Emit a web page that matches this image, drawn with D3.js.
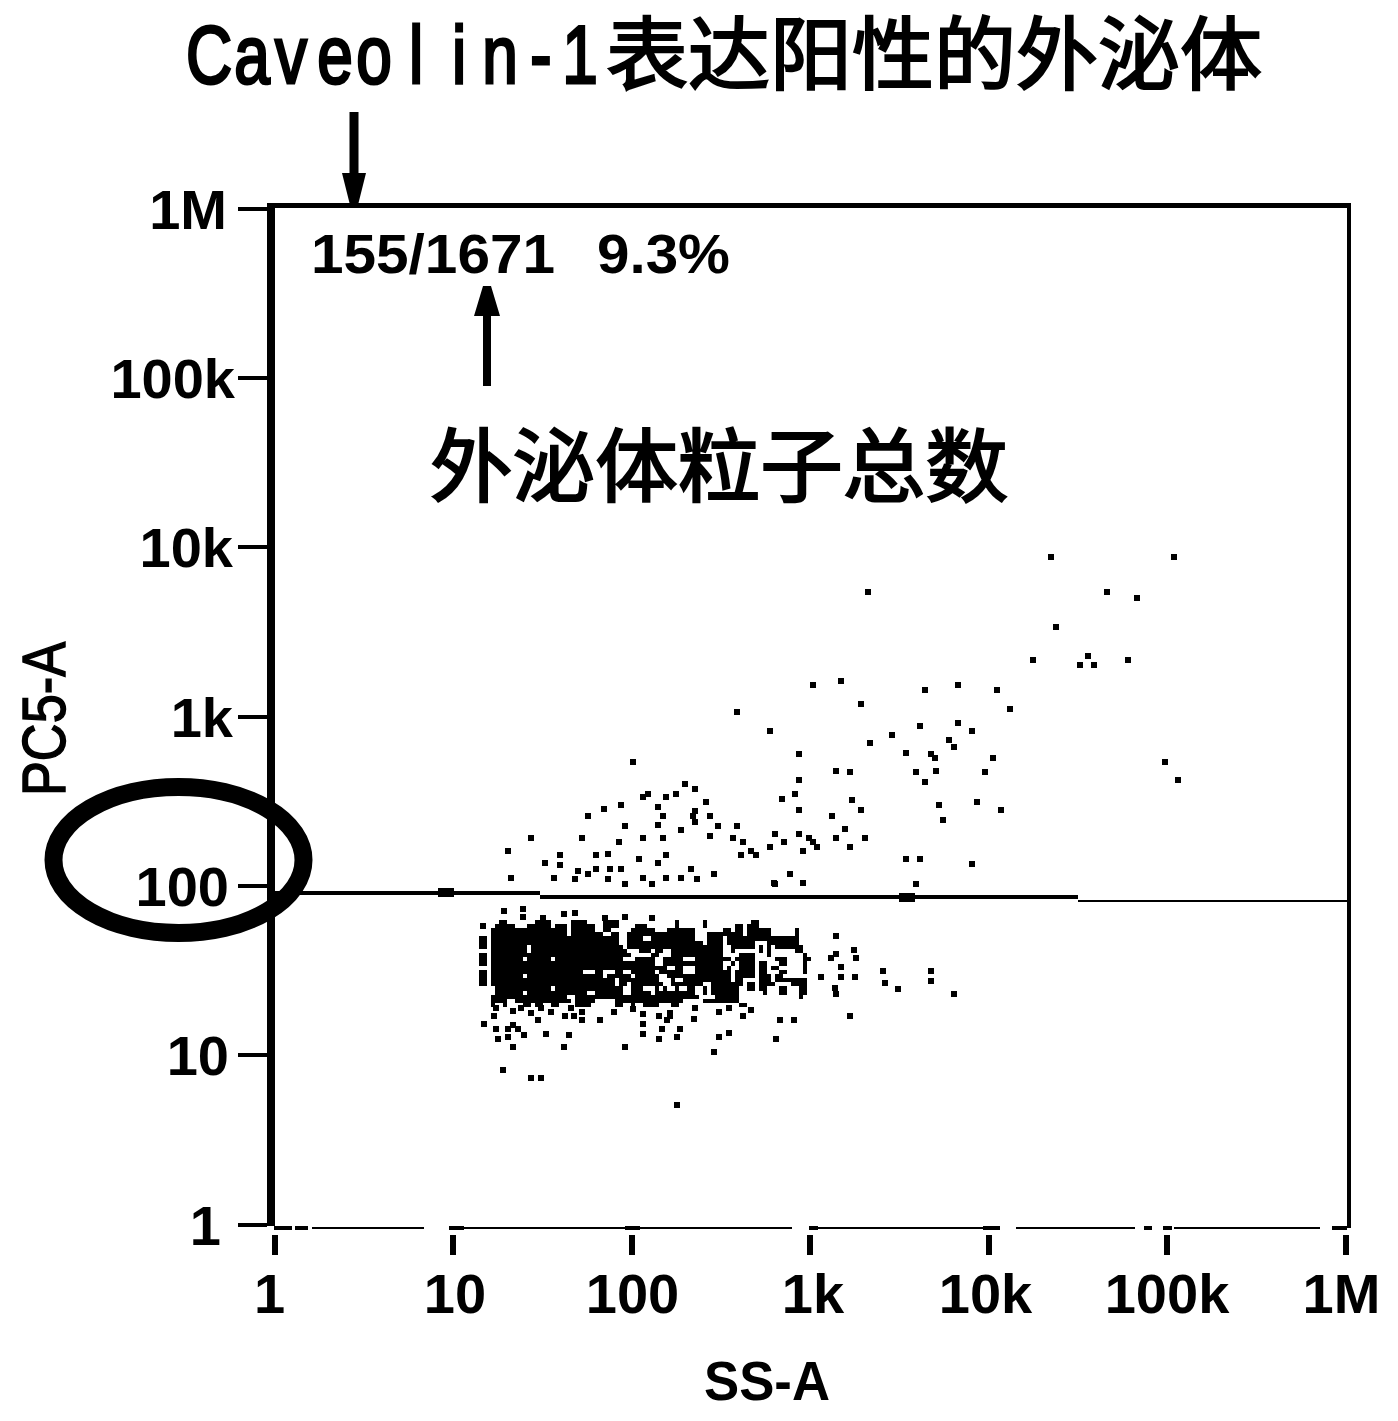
<!DOCTYPE html>
<html><head><meta charset="utf-8">
<script src="https://cdnjs.cloudflare.com/ajax/libs/d3/7.8.5/d3.min.js"></script>
<style>
html,body{margin:0;padding:0;background:#fff}
svg{display:block}
text{fill:#000}
.num{font-family:"Liberation Sans",Arial,sans-serif;font-weight:700;font-size:56px}
.cjk{font-family:"Noto Sans CJK SC",sans-serif;font-size:80px;stroke:#000;stroke-width:2.2px}
.lat{font-family:"Liberation Sans",Arial,sans-serif;font-size:82px;stroke:#000;stroke-width:3px}
</style></head><body>
<svg id="c" width="1398" height="1421"></svg>
<script>
// ---- text ----
const titleLatin = "Caveolin-1";
const titleLatinCentres = [209, 252, 291, 335, 374, 416, 459, 500, 541, 580];
const titleCjk = "表达阳性的外泌体";
const noteCjk = "外泌体粒子总数";
const gateCount = "155/1671";
const gatePercent = "9.3%";
const xTitle = "SS-A";
const yTitle = "PC5-A";

// ---- axes ----
const tickValues = [1, 10, 100, 1000, 10000, 100000, 1000000];
const tickNames = ["1", "10", "100", "1k", "10k", "100k", "1M"];
const xLabelNudge = [-5, 2, 1, 3, -3, 0, -4];
const yLabelNudge = [-9, -1, -1, 3, 3, 5, -3];

// ---- gate (threshold) in channel values: [SS-A from, SS-A to, PC5-A, line weight] ----
const gateSegments = [[1, 31, 90.2, 4], [31, 31900, 85.3, 4], [31900, 1030000, 80.9, 2]];
const gateDots = [[9.2, 90.2], [3540, 85.3]];

// ---- events, as [log10 SS-A, log10 PC5-A] ----
const eventsAboveGate = [[4.355,3.939],[5.04,3.939],[3.33,3.73],[4.668,3.73],[4.834,3.699],[4.379,3.524],[4.252,3.329],[4.563,3.353],[4.518,3.304],[4.595,3.304],[4.784,3.329],[3.017,3.182],[3.178,3.205],[3.647,3.156],[3.833,3.182],[4.049,3.152],[3.286,3.071],[4.123,3.044],[2.596,3.022],[2.777,2.912],[3.62,2.94],[3.831,2.961],[3.912,2.912],[3.462,2.885],[3.783,2.861],[3.341,2.839],[3.807,2.816],[2.941,2.778],[3.541,2.782],[3.681,2.778],[3.704,2.753],[4.028,2.753],[4.992,2.729],[2.014,2.729],[3.146,2.674],[3.228,2.668],[3.599,2.668],[3.707,2.678],[3.981,2.672],[2.941,2.621],[3.646,2.609],[5.063,2.621],[2.303,2.598],[2.361,2.57],[2.093,2.542],[2.069,2.519],[2.198,2.519],[2.253,2.542],[2.917,2.542],[2.848,2.507],[3.238,2.503],[2.419,2.495],[3.725,2.472],[3.936,2.495],[1.85,2.448],[1.942,2.472],[2.153,2.462],[2.361,2.438],[2.941,2.444],[3.286,2.444],[4.073,2.444],[1.758,2.411],[2.177,2.411],[2.348,2.411],[2.443,2.411],[3.125,2.411],[3.749,2.387],[2.361,2.373],[1.964,2.352],[2.153,2.356],[2.488,2.352],[2.596,2.35],[2.28,2.328],[3.2,2.33],[1.439,2.277],[1.727,2.277],[2.069,2.277],[2.177,2.277],[2.44,2.291],[2.569,2.277],[2.804,2.303],[2.941,2.303],[2.996,2.277],[3.146,2.277],[3.309,2.277],[1.935,2.253],[2.627,2.253],[2.859,2.253],[3.017,2.253],[1.313,2.2],[1.6,2.177],[1.803,2.177],[1.869,2.187],[2.198,2.177],[2.672,2.2],[2.619,2.177],[2.698,2.177],[2.777,2.228],[2.962,2.2],[3.041,2.228],[3.228,2.228],[2.043,2.153],[3.541,2.153],[3.62,2.153],[1.521,2.129],[1.6,2.118],[2.153,2.129],[3.912,2.124],[1.705,2.084],[1.803,2.094],[1.885,2.094],[1.942,2.094],[2.338,2.094],[1.758,2.069],[2.464,2.065],[1.326,2.043],[1.566,2.043],[1.684,2.035],[1.869,2.035],[1.964,2.006],[2.069,2.043],[2.119,2.006],[2.198,2.043],[2.28,2.043],[2.369,2.035],[2.893,2.069],[2.804,2.01],[2.962,2.015],[3.599,2.01],[2.965,2.011],[2.801,2.011]];
const eventsBelowGate = [[1.287,1.848],[1.395,1.858],[1.395,1.815],[1.505,1.809],[1.626,1.829],[1.685,1.838],[1.855,1.809],[1.964,1.815],[2.119,1.809],[1.17,1.76],[1.245,1.278],[1.338,1.258],[1.384,1.278],[1.44,1.248],[1.496,1.278],[1.551,1.252],[1.663,1.278],[1.728,1.254],[1.905,1.252],[2.013,1.268],[2.069,1.242],[2.156,1.229],[2.221,1.248],[2.361,1.278],[2.355,1.209],[2.491,1.252],[2.547,1.278],[2.673,1.264],[2.63,1.229],[1.231,1.229],[1.477,1.205],[1.63,1.229],[1.682,1.229],[1.728,1.205],[1.827,1.205],[2.221,1.229],[2.203,1.205],[2.835,1.205],[2.913,1.205],[3.226,1.229],[1.176,1.18],[1.338,1.176],[2.069,1.18],[1.245,1.15],[1.313,1.15],[1.365,1.15],[2.175,1.15],[2.277,1.15],[1.403,1.117],[1.523,1.125],[1.65,1.117],[2.069,1.125],[1.254,1.091],[1.313,1.103],[2.156,1.095],[2.255,1.103],[2.491,1.103],[2.547,1.13],[2.813,1.091],[1.338,1.044],[1.626,1.044],[1.964,1.044],[2.467,1.018],[1.285,0.908],[1.44,0.861],[1.496,0.861],[2.255,0.702],[3.146,1.701],[3.25,1.618],[3.146,1.593],[3.123,1.569],[3.263,1.569],[3.179,1.52],[3.064,1.461],[3.179,1.461],[3.253,1.461],[3.412,1.494],[3.681,1.494],[3.421,1.425],[3.681,1.435],[3.495,1.386],[3.142,1.396],[3.147,1.357],[3.808,1.36]];

// ---- saturated core, binned: occupied SS-A bin runs [from, to) per PC5-A bin, top bin first ----
const denseSsaStart = 1.148, denseSsaBin = 0.0224;   // log10 SS-A
const densePc5Start = 1.797, densePc5Bin = 0.0246;   // log10 PC5-A, downwards
const denseRuns = [
 [[5,7],[14,18],[23,27],[31,35],[49,50],[56,57],[68,70]],
 [[4,9],[12,18],[19,22],[23,29],[31,35],[39,42],[49,50],[56,57],[64,66],[67,70]],
 [[3,22],[23,29],[31,33],[38,44],[47,54],[61,63],[64,66],[67,73],[79,80]],
 [[3,22],[23,31],[33,35],[37,54],[57,66],[67,73],[79,80]],
 [[0,2],[3,35],[37,41],[43,54],[57,61],[62,80]],
 [[0,2],[3,35],[37,56],[57,61],[62,69],[72,80]],
 [[0,2],[3,12],[13,36],[37,61],[63,69],[70,71],[72,73],[74,81]],
 [[3,12],[13,37],[40,43],[44,46],[48,61],[63,64],[70,71],[72,73],[79,81]],
 [[0,2],[3,38],[43,45],[48,61],[65,69],[72,73],[81,82]],
 [[0,2],[3,11],[12,18],[19,36],[39,44],[46,51],[54,63],[64,69],[74,77],[81,83]],
 [[0,2],[3,44],[46,61],[63,64],[65,69],[70,72],[75,77],[81,82]],
 [[3,47],[49,51],[54,61],[62,63],[65,69],[70,72],[73,75],[81,82]],
 [[0,2],[3,26],[29,31],[34,36],[38,44],[45,51],[54,63],[64,69],[70,72],[75,77],[81,82]],
 [[0,2],[3,11],[12,31],[32,38],[39,45],[47,63],[64,69],[70,73],[74,76]],
 [[0,2],[3,34],[35,45],[48,49],[51,63],[64,66],[70,73],[74,82]],
 [[0,2],[3,34],[35,37],[38,46],[48,56],[58,66],[67,69],[70,74],[78,82]],
 [[4,18],[19,36],[38,41],[44,45],[46,47],[49,50],[52,54],[56,57],[58,65],[67,69],[70,72],[75,77],[80,82]],
 [[4,11],[12,27],[29,36],[38,43],[44,54],[56,57],[58,65],[71,72],[75,77],[80,82]],
 [[3,22],[24,55],[59,65],[80,81]],
 [[3,7],[9,23],[24,29],[34,51],[56,65]],
 [[3,4],[6,7],[11,13],[14,16],[18,20],[24,28],[34,36],[38,39],[41,45],[48,50],[65,67]]
];

// ---- broken thin baseline and its heavier stubs, in SS-A channel values ----
const baselineRuns = [[1.63,6.9],[11.6,92.6],[112,800],[1100,9400],[14400,66600],[110000,724000]];
const baselineStubs = [[1,1.26],[1.31,1.55],[9.6,11.6],[92.6,112],[993,1116],[9380,11700],[74800,83000],[96000,107000],[845000,1020000]];

// ---- build ----
const svg = d3.select("#c");
const x = d3.scaleLog().domain([1, 1e6]).range([274, 1345]);
const y = d3.scaleLog().domain([1, 1e6]).range([1224, 208]);
const frame = {l: 267, t: 203, r: 1351, b: 1228, lw: 8, tw: 5, rw: 4};

// Events
const markSize = 6;
const marks = svg.append("g").attr("shape-rendering", "crispEdges");
marks.selectAll("rect.ev").data(eventsAboveGate.concat(eventsBelowGate)).join("rect").attr("class", "ev")
  .attr("x", d => x(10 ** d[0]) - markSize / 2)
  .attr("y", d => y(10 ** d[1]) - markSize / 2)
  .attr("width", markSize).attr("height", markSize);

const denseCells = denseRuns.flatMap((runs, r) => runs.map(run => ({r, from: run[0], to: run[1]})));
marks.selectAll("rect.dense").data(denseCells).join("rect").attr("class", "dense")
  .attr("x", d => x(10 ** (denseSsaStart + d.from * denseSsaBin)))
  .attr("width", d => x(10 ** (denseSsaStart + d.to * denseSsaBin)) - x(10 ** (denseSsaStart + d.from * denseSsaBin)))
  .attr("y", d => y(10 ** (densePc5Start - d.r * densePc5Bin)))
  .attr("height", d => y(10 ** (densePc5Start - (d.r + 1) * densePc5Bin)) - y(10 ** (densePc5Start - d.r * densePc5Bin)));

// Gate
marks.selectAll("rect.gate").data(gateSegments).join("rect").attr("class", "gate")
  .attr("x", d => x(d[0]))
  .attr("width", d => x(d[1]) - x(d[0]))
  .attr("y", d => y(d[2]) - d[3] / 2)
  .attr("height", d => d[3]);
marks.selectAll("rect.gdot").data(gateDots).join("rect").attr("class", "gdot")
  .attr("x", d => x(d[0]) - 8).attr("y", d => y(d[1]) - 4.5).attr("width", 16).attr("height", 9);

// Frame
const fr = svg.append("g").attr("shape-rendering", "crispEdges");
fr.append("rect").attr("x", frame.l).attr("y", frame.t).attr("width", frame.lw).attr("height", frame.b - frame.t - 2);
fr.append("rect").attr("x", frame.l).attr("y", frame.t).attr("width", frame.r - frame.l).attr("height", frame.tw);
fr.append("rect").attr("x", frame.r - frame.rw).attr("y", frame.t).attr("width", frame.rw).attr("height", frame.b - frame.t);
fr.selectAll("rect.base").data(baselineRuns).join("rect").attr("class", "base")
  .attr("x", d => x(d[0])).attr("width", d => x(d[1]) - x(d[0]))
  .attr("y", frame.b - 1).attr("height", 2);
fr.selectAll("rect.stub").data(baselineStubs).join("rect").attr("class", "stub")
  .attr("x", d => x(d[0])).attr("width", d => x(d[1]) - x(d[0]))
  .attr("y", frame.b - 2).attr("height", 4);

// Axes
const fmt = v => tickNames[tickValues.indexOf(v)];
const gx = svg.append("g").attr("transform", "translate(0,1235)")
  .call(d3.axisBottom(x).tickValues(tickValues).tickFormat(fmt).tickSize(20).tickPadding(0));
gx.select(".domain").remove();
gx.selectAll(".tick line").attr("stroke", "#000").attr("stroke-width", 6).attr("shape-rendering", "crispEdges");
gx.selectAll(".tick text").attr("class", "num").attr("y", 78).attr("dy", 0).attr("dx", (d, i) => xLabelNudge[i]).attr("fill", "#000");

const gy = svg.append("g").attr("transform", "translate(267,0)")
  .call(d3.axisLeft(y).tickValues(tickValues).tickFormat(fmt).tickSize(29).tickPadding(8));
gy.select(".domain").remove();
gy.selectAll(".tick line").attr("stroke", "#000").attr("stroke-width", 4).attr("shape-rendering", "crispEdges");
gy.selectAll(".tick text").attr("class", "num").attr("dy", 20).attr("dx", (d, i) => yLabelNudge[i]).attr("fill", "#000");

// Axis titles
svg.append("text").attr("class", "num").attr("x", 704).attr("y", 1400)
  .attr("textLength", 126).attr("lengthAdjust", "spacingAndGlyphs").text(xTitle);
svg.append("text").attr("class", "num").attr("transform", "translate(65,796) rotate(-90)")
  .style("font-size", "62px").style("font-weight", 400).style("stroke", "#000").style("stroke-width", "1.5px")
  .attr("textLength", 154).attr("lengthAdjust", "spacingAndGlyphs").text(yTitle);

// Annotations
svg.selectAll("text.lat").data(titleLatin.split("")).join("text").attr("class", "lat")
  .attr("text-anchor", "middle")
  .attr("transform", (d, i) => `translate(${titleLatinCentres[i]},83) scale(0.78,1)`)
  .text(d => d);
svg.append("text").attr("class", "cjk").attr("x", 606).attr("y", 83)
  .attr("textLength", 656).attr("lengthAdjust", "spacingAndGlyphs").text(titleCjk);
svg.append("text").attr("class", "cjk").attr("x", 430).attr("y", 495)
  .attr("textLength", 578).attr("lengthAdjust", "spacingAndGlyphs").text(noteCjk);
svg.append("text").attr("class", "num").attr("x", 311).attr("y", 273)
  .attr("textLength", 244).attr("lengthAdjust", "spacingAndGlyphs").text(gateCount);
svg.append("text").attr("class", "num").attr("x", 597).attr("y", 273)
  .attr("textLength", 133).attr("lengthAdjust", "spacingAndGlyphs").text(gatePercent);

// Arrows
const arrow = (cx, tail, tip, head, shaft, hw) => {
  const s = Math.sign(tip - tail);
  const p = d3.path();
  p.moveTo(cx - shaft / 2, tail);
  p.lineTo(cx - shaft / 2, tip - s * head);
  p.lineTo(cx - hw, tip - s * head);
  p.lineTo(cx - shaft / 2, tip);
  p.lineTo(cx + shaft / 2, tip);
  p.lineTo(cx + hw, tip - s * head);
  p.lineTo(cx + shaft / 2, tip - s * head);
  p.lineTo(cx + shaft / 2, tail);
  p.closePath();
  return p.toString();
};
svg.append("path").attr("d", arrow(354, 112, 203, 30, 9, 12));
svg.append("path").attr("d", arrow(487, 386, 286, 30, 8, 13));

// Ring round the 100 tick
svg.append("ellipse").attr("cx", 178.5).attr("cy", 860).attr("rx", 125).attr("ry", 73)
  .attr("fill", "none").attr("stroke", "#000").attr("stroke-width", 18);
</script>
</body></html>
